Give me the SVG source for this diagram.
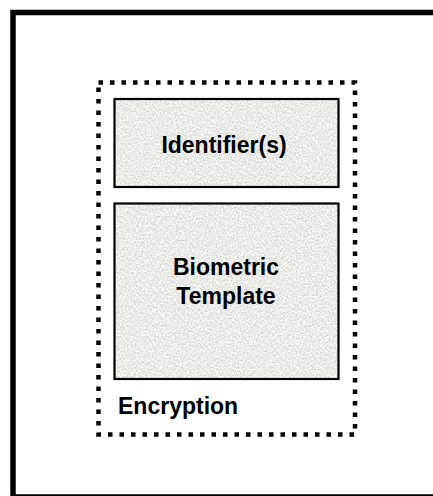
<svg xmlns="http://www.w3.org/2000/svg" width="433" height="496" viewBox="0 0 433 496">
  <defs>
    <filter id="granite" x="0" y="0" width="100%" height="100%" filterUnits="objectBoundingBox" color-interpolation-filters="sRGB">
      <feTurbulence type="fractalNoise" baseFrequency="0.55" numOctaves="3" seed="7" result="noise"/>
      <feColorMatrix in="noise" type="matrix" values="0.32 0 0 0 0.76  0.32 0 0 0 0.76  0.32 0 0 0 0.75  0 0 0 0 1" result="gray"/>
      <feComposite in="gray" in2="SourceGraphic" operator="in"/>
    </filter>
    <style>
      .frame { fill: #ffffff; stroke: #000000; stroke-width: 5.5; }
      .dotted { fill: none; stroke: #000000; stroke-width: 4.5; stroke-dasharray: 4.5 7; }
      .tex { fill: #e8e8e6; stroke: none; filter: url(#granite); }
      .box { fill: none; stroke: #000000; stroke-width: 2.2; }
      .label { font-family: "Liberation Sans", Arial, sans-serif; font-weight: bold; font-size: 23px; fill: #000000; }
    </style>
  </defs>

  <rect x="0" y="0" width="433" height="496" fill="#ffffff"/>

  <g id="frame">
    <rect class="frame" x="13" y="12.5" width="430" height="484.5"/>
  </g>

  <g id="encryption">
    <rect class="dotted" x="98.5" y="82.5" width="256.5" height="352"/>
    <text class="label" x="118" y="414">Encryption</text>
  </g>

  <g id="identifiers">
    <rect class="tex" x="114.5" y="99" width="224" height="88"/>
    <rect class="box" x="114.5" y="99" width="224" height="88"/>
    <text class="label" x="224" y="153" text-anchor="middle">Identifier(s)</text>
  </g>

  <g id="biometric-template">
    <rect class="tex" x="114.5" y="203.5" width="224" height="175.5"/>
    <rect class="box" x="114.5" y="203.5" width="224" height="175.5"/>
    <text class="label" x="226" y="275" text-anchor="middle">Biometric</text>
    <text class="label" x="226" y="303.5" text-anchor="middle">Template</text>
  </g>

  <g id="connectors"/>
</svg>
